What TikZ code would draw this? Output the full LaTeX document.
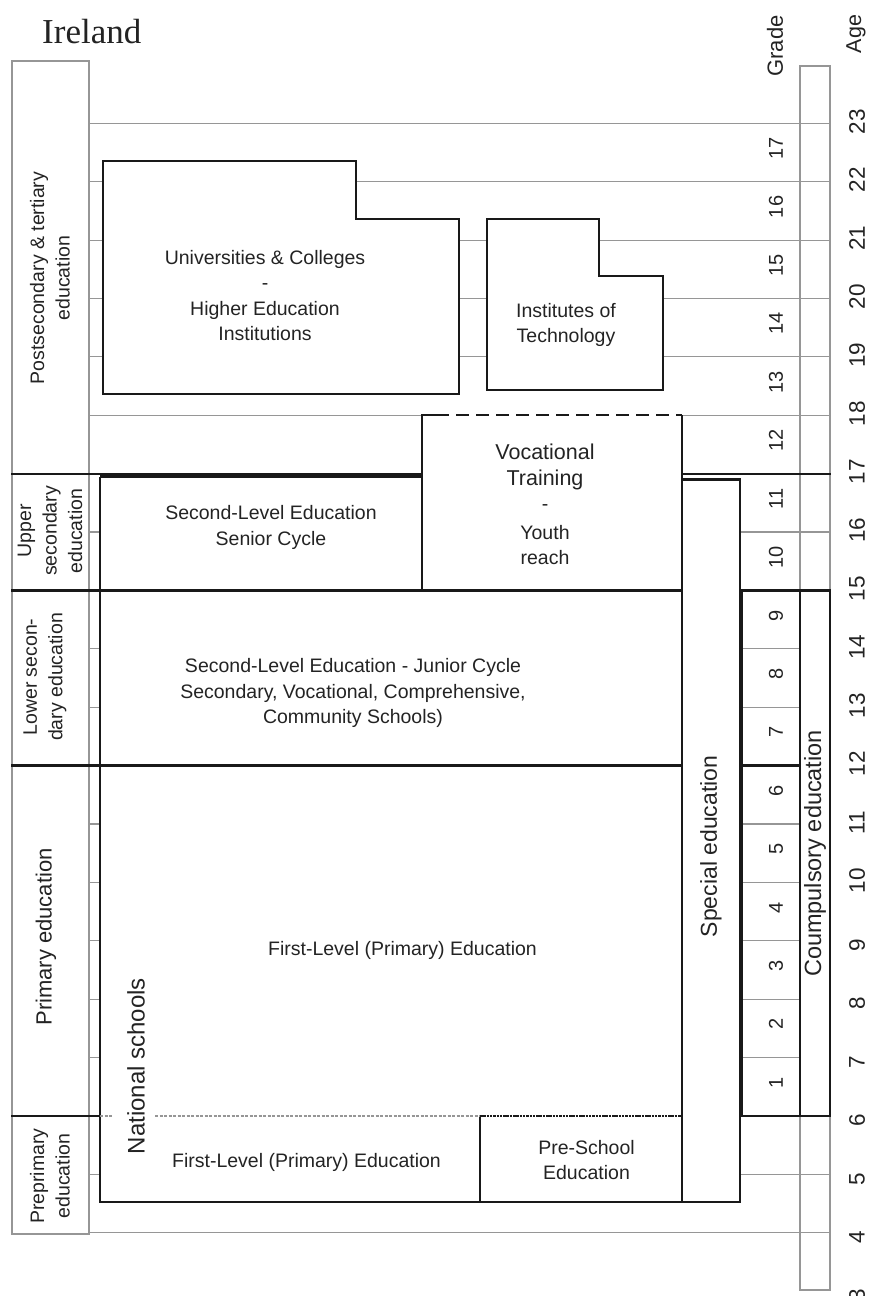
\documentclass[tikz,border=0pt]{standalone}
\usepackage{fontspec}
\setmainfont{Liberation Sans}
\newfontfamily\titlefont{Liberation Serif}
\definecolor{rule}{RGB}{150,150,150}
\definecolor{ink}{RGB}{25,25,25}
\definecolor{txt}{RGB}{35,35,35}
\begin{document}
\begin{tikzpicture}[x=1pt,y=-1pt,
  declare function={ay(\a)=1232.7-(\a-4)*58.39;},
  grid/.style={draw=rule,line width=1.1pt},
  bold/.style={draw=ink,line width=2.2pt,line cap=rect},
  boxline/.style={draw=ink,line width=2.2pt,line join=miter},
  lab/.style={text=txt,inner sep=0pt,align=center,font=\fontsize{19.5}{25.5}\selectfont},
  vlab/.style={lab,rotate=90},
  gradelab/.style={lab,rotate=90,font=\fontsize{20}{24}\selectfont},
  agelab/.style={lab,rotate=90,anchor=west,font=\fontsize{22.5}{26}\selectfont}]
\useasboundingbox (0,0) rectangle (872,1296);

% title
\node[anchor=base west,inner sep=0pt,text=txt,font=\titlefont\fontsize{35}{40}\selectfont] (title) at (42,43.3) {Ireland};

% stage column on the left and compulsory column on the right
\draw[grid] (12,61) rectangle (89,1234);
\draw[grid] (800,66) rectangle (830,1290);

% thin age lines
\draw[grid] (89,{ay(23)}) -- (830,{ay(23)});
\draw[grid] (89,{ay(22)}) -- (103,{ay(22)}) (356,{ay(22)}) -- (830,{ay(22)});
\draw[grid] (89,{ay(21)}) -- (103,{ay(21)}) (459,{ay(21)}) -- (487,{ay(21)}) (599,{ay(21)}) -- (830,{ay(21)});
\foreach \a in {20,19}
  \draw[grid] (89,{ay(\a)}) -- (103,{ay(\a)}) (459,{ay(\a)}) -- (487,{ay(\a)}) (663,{ay(\a)}) -- (830,{ay(\a)});
\draw[grid] (89,{ay(18)}) -- (422,{ay(18)}) (682,{ay(18)}) -- (830,{ay(18)});
\draw[grid] (89,{ay(16)}) -- (100,{ay(16)}) (740,{ay(16)}) -- (830,{ay(16)});
\foreach \a in {14,13,11,10,9,8,7}
  \draw[grid] (89,{ay(\a)}) -- (100,{ay(\a)}) (742,{ay(\a)}) -- (800,{ay(\a)});
\draw[grid] (89,{ay(5)}) -- (100,{ay(5)}) (740,{ay(5)}) -- (830,{ay(5)});
\draw[grid] (89,{ay(4)}) -- (830,{ay(4)});

% stage boundaries
\draw[bold] (12,{ay(17)}) -- (422,{ay(17)}) (682,{ay(17)}) -- (830,{ay(17)});
\draw[bold] (12,{ay(15)}) -- (682,{ay(15)}) (742,{ay(15)}) -- (830,{ay(15)});
\draw[bold] (12,{ay(12)}) -- (682,{ay(12)}) (742,{ay(12)}) -- (800,{ay(12)});
\draw[bold] (12,{ay(6)}) -- (100,{ay(6)}) (742,{ay(6)}) -- (830,{ay(6)});

% school blocks
\draw[boxline] (103,161) -- (356,161) -- (356,219) -- (459,219) -- (459,394) -- (103,394) -- cycle;
\draw[boxline] (487,219) -- (599,219) -- (599,276) -- (663,276) -- (663,390) -- (487,390) -- cycle;
\draw[boxline] (100,476.5) -- (422,476.5);
\draw[boxline] (100,476.5) -- (100,1202) -- (740,1202) -- (740,479.5) -- (682,479.5);
\draw[boxline] (422,{ay(15)}) -- (422,{ay(18)}) -- (436,{ay(18)});
\draw[draw=ink,line width=2.2pt,dash pattern=on 13pt off 7pt] (436,{ay(18)}) -- (682,{ay(18)});
\draw[boxline] (682,{ay(18)}) -- (682,1202);
\draw[boxline] (480,{ay(6)}) -- (480,1202);
\draw[draw=ink,line width=1.6pt,dash pattern=on 2.5pt off 0.8pt] (480,{ay(6)}) -- (682,{ay(6)});
\draw[draw=rule,line width=1.3pt,dash pattern=on 3pt off 1.5pt] (100,{ay(6)}) -- (113,{ay(6)}) (155,{ay(6)}) -- (480,{ay(6)});

% grade and compulsory boxes
\draw[boxline] (742,{ay(15)}) -- (742,{ay(6)});
\draw[boxline] (800,{ay(15)}) -- (800,{ay(6)});
\draw[boxline] (830,{ay(15)}) -- (830,{ay(6)});

% stage names
\node[vlab] (post) at (50,278) {Postsecondary \& tertiary\\education};
\node[vlab] (upper) at (50,531) {Upper\\secondary\\education};
\node[vlab] (lower) at (45,677) {Lower secon-\\dary education};
\node[vlab,font=\fontsize{22}{26}\selectfont] (primary) at (46,937) {Primary education};
\node[vlab] (preprimary) at (50,1176) {Preprimary\\education};

% block labels
\node[lab] (univ) at (265,295.5) {Universities \& Colleges\\-\\Higher Education\\Institutions};
\node[lab] (inst) at (566,325) {Institutes of\\Technology};
\node[lab] (voc) at (545,504.5) {{\fontsize{21.5}{25.5}\selectfont Vocational}\\{\fontsize{21.5}{25.5}\selectfont Training}\\-\\[3pt]Youth\\reach};
\node[lab] (senior) at (271,527.5) {Second-Level Education\\Senior Cycle};
\node[lab] (junior) at (353,693) {Second-Level Education - Junior Cycle\\Secondary, Vocational, Comprehensive,\\Community Schools)};
\node[lab] (first) at (402.5,950) {First-Level (Primary) Education};
\node[lab] (firstpre) at (306.5,1162) {First-Level (Primary) Education};
\node[lab] (preschool) at (586.5,1160) {Pre-School\\Education};
\node[vlab,font=\fontsize{24}{28}\selectfont] (national) at (136,1066) {National schools};
\node[vlab,font=\fontsize{23}{27}\selectfont] (special) at (711,846.5) {Special education};
\node[vlab,font=\fontsize{23.5}{27}\selectfont] (compulsory) at (815,853.5) {Coumpulsory education};

% axis headings and scales
\node[vlab,font=\fontsize{22}{26}\selectfont] (gradehead) at (775,46) {Grade};
\node[vlab,font=\fontsize{21.5}{26}\selectfont] (agehead) at (856,34) {Age};
\foreach \g in {1,...,17}
  \node[gradelab] (grade\g) at (776,{(ay(\g+5)+ay(\g+6))/2-4}) {\g};
\foreach \a in {3,...,23}
  \node[agelab] (age\a) at (857,{ay(\a)+11}) {\a};
\end{tikzpicture}
\end{document}
